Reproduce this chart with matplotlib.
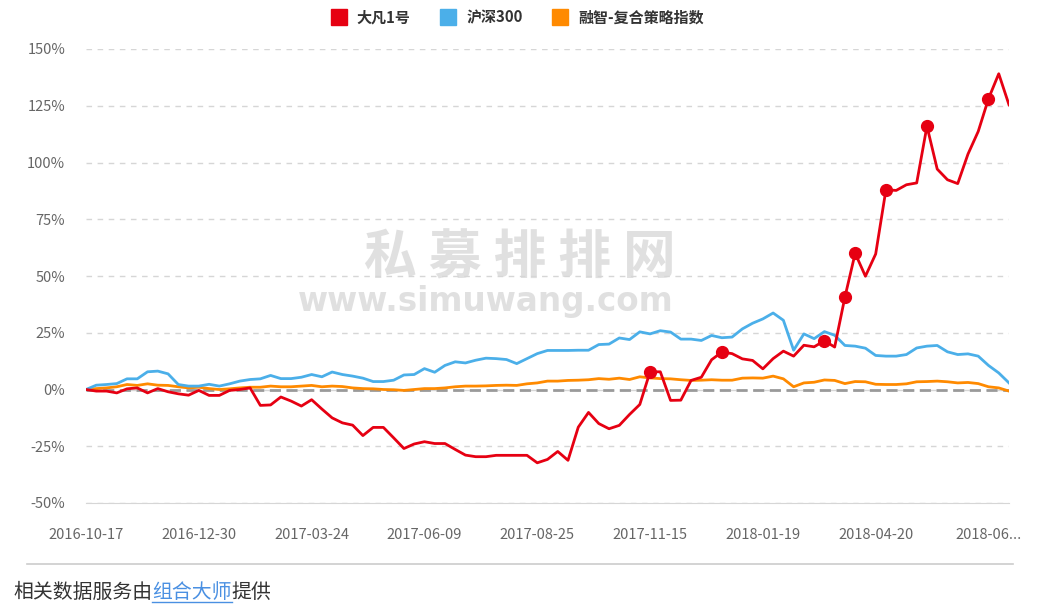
import numpy as np
import matplotlib
matplotlib.use('Agg')
import matplotlib.pyplot as plt
from matplotlib.lines import Line2D
from matplotlib.ticker import FuncFormatter

plt.rcParams['font.family'] = ['Noto Sans CJK SC', 'DejaVu Sans']

# series values (%), weekly points
fund = [0, -0.7, -0.7, -1.5, 0.3, 0.7, -1.5, 0.4, -1.0, -1.9,
        -2.5, -0.4, -2.6, -2.6, -0.4, 0.0, 0.7, -7.0, -6.8, -3.3,
        -5.1, -7.3, -4.5, -8.6, -12.5, -14.7, -15.7, -20.3, -16.7, -16.7,
        -21.3, -26.0, -24.0, -23.0, -23.8, -23.8, -26.4, -28.9, -29.6, -29.6,
        -29.0, -29.0, -29.0, -29.0, -32.3, -30.8, -27.3, -31.2, -16.6, -10.1,
        -15.0, -17.3, -15.8, -11.0, -6.6, 7.8, 7.8, -4.8, -4.7, 4.0,
        5.4, 13.1, 16.5, 15.8, 13.5, 12.8, 9.1, 13.6, 16.9, 14.7,
        19.5, 18.8, 21.5, 18.7, 40.7, 60.0, 49.9, 59.7, 88.0, 87.7,
        90.2, 91.0, 116.0, 97.1, 92.4, 90.7, 103.7, 113.7, 128.1, 139.1,
        125.4]
hs300 = [0, 1.9, 2.2, 2.6, 4.7, 4.7, 7.8, 8.1, 6.9, 2.2,
         1.5, 1.5, 2.3, 1.5, 2.5, 3.7, 4.4, 4.7, 6.2, 4.8,
         4.8, 5.4, 6.6, 5.6, 7.7, 6.6, 5.9, 5.0, 3.5, 3.5,
         4.1, 6.4, 6.6, 9.2, 7.6, 10.6, 12.2, 11.7, 12.9, 13.8,
         13.6, 13.2, 11.4, 13.6, 15.8, 17.2, 17.2, 17.2, 17.3, 17.3,
         19.8, 20.0, 22.7, 22.0, 25.4, 24.5, 25.9, 25.3, 22.2, 22.2,
         21.6, 23.8, 22.8, 23.1, 26.7, 29.2, 31.1, 33.7, 30.5, 17.3,
         24.5, 22.4, 25.5, 23.9, 19.4, 19.1, 18.2, 15.0, 14.7, 14.7,
         15.4, 18.3, 19.1, 19.4, 16.6, 15.4, 15.7, 14.7, 10.6, 7.3,
         2.9]
ruizhi = [0, 0.4, 0.7, 1.2, 2.2, 1.8, 2.5, 1.9, 1.8, 1.2,
          0.7, 1.0, 0.4, 0.0, 0.3, 0.7, 1.0, 1.0, 1.5, 1.2,
          1.2, 1.5, 1.8, 1.2, 1.5, 1.3, 0.7, 0.4, 0.3, 0.0,
          -0.1, -0.4, 0.0, 0.4, 0.4, 0.7, 1.2, 1.5, 1.5, 1.6,
          1.8, 1.9, 1.8, 2.5, 2.9, 3.7, 3.7, 4.0, 4.1, 4.3,
          4.8, 4.5, 5.0, 4.4, 5.6, 5.1, 4.8, 4.7, 4.3, 4.0,
          4.1, 4.3, 4.1, 4.1, 5.0, 5.1, 5.0, 5.9, 4.7, 1.2,
          2.9, 3.2, 4.2, 4.0, 2.6, 3.5, 3.4, 2.3, 2.2, 2.2,
          2.5, 3.4, 3.5, 3.7, 3.4, 2.9, 3.1, 2.6, 1.2, 0.7,
          -0.7]
# points of the fund series that carry a marker
marked = [55, 62, 72, 74, 75, 78, 82, 88]

series_names = ['大凡1号', '沪深300', '融智-复合策略指数']
series_colors = ['#e60012', '#4bafe9', '#ff8a00']

date_labels = ['2016-10-17', '2016-12-30', '2017-03-24', '2017-06-09', '2017-08-25',
               '2017-11-15', '2018-01-19', '2018-04-20', '2018-06...']
label_step = 11
y_ticks = [-50, -25, 0, 25, 50, 75, 100, 125, 150]

x = np.arange(len(fund))

fig = plt.figure(figsize=(10.56, 6.16), dpi=100)
ax = fig.add_axes([86 / 1056, 113 / 616, 923 / 1056, 454 / 616])

# watermark
ax.text(0.47, 0.54, '私 募 排 排 网', transform=ax.transAxes, ha='center', va='center',
        fontsize=38, fontweight='bold', color='#e0e0e0', zorder=0)
ax.text(0.433, 0.443, 'www.simuwang.com', transform=ax.transAxes, ha='center', va='center',
        fontsize=23.5, fontweight='bold', color='#e0e0e0', family='DejaVu Sans', zorder=0)

ax.axhline(0, color='#9a9a9a', lw=2, ls=(0, (4, 2)), zorder=1)

ax.plot(x, ruizhi, color=series_colors[2], lw=2, zorder=3)
ax.plot(x, hs300, color=series_colors[1], lw=2, zorder=3)
ax.plot(x, fund, color=series_colors[0], lw=2, zorder=4)
ax.plot(marked, [fund[i] for i in marked], 'o', color=series_colors[0], ms=8.5, zorder=5)

ax.set_xlim(0, len(fund) - 1)
ax.set_ylim(-50, 150)
ax.set_yticks(y_ticks)
ax.yaxis.set_major_formatter(FuncFormatter(lambda v, p: f'{v:.0f}%'))
ax.set_xticks(x[::label_step])
ax.set_xticklabels(date_labels)
ax.tick_params(length=0, labelsize=10.5, colors='#666666')
ax.tick_params(axis='y', pad=15)
ax.tick_params(axis='x', pad=18)
ax.yaxis.grid(True, color='#d6d6d6', lw=1, ls=(0, (4, 4)))
ax.set_axisbelow(True)
for side in ['top', 'right', 'left']:
    ax.spines[side].set_visible(False)
ax.spines['bottom'].set_color('#d6d6d6')

handles = [Line2D([], [], marker='s', ls='none', ms=12, color=c) for c in series_colors]
fig.legend(handles, series_names, loc='center', bbox_to_anchor=(0.49, 0.972), ncol=3,
           frameon=False, handlelength=1.0, handletextpad=0.7, columnspacing=2.0,
           prop={'family': ['Noto Sans CJK SC', 'DejaVu Sans'], 'weight': 'bold', 'size': 10.8},
           labelcolor='#333333')

# footer
fig.add_artist(Line2D([27 / 1056, 1013 / 1056], [1 - 564 / 616, 1 - 564 / 616],
                      color='#cccccc', lw=1.2))
fig.canvas.draw()
r = fig.canvas.get_renderer()
yy = 1 - 592 / 616
t1 = fig.text(13 / 1056, yy, '相关数据服务由', fontsize=14.3, color='#333333', va='center')
bb = t1.get_window_extent(r)
t2 = fig.text(bb.x1 / 1056, yy, '组合大师', fontsize=14.3, color='#4a90e2', va='center')
bb2 = t2.get_window_extent(r)
fig.add_artist(Line2D([bb2.x0 / 1056, bb2.x1 / 1056], [(bb2.y0 + 1) / 616] * 2,
                      color='#4a90e2', lw=1))
fig.text(bb2.x1 / 1056, yy, '提供', fontsize=14.3, color='#333333', va='center')

fig.savefig('out.png', dpi=100)
